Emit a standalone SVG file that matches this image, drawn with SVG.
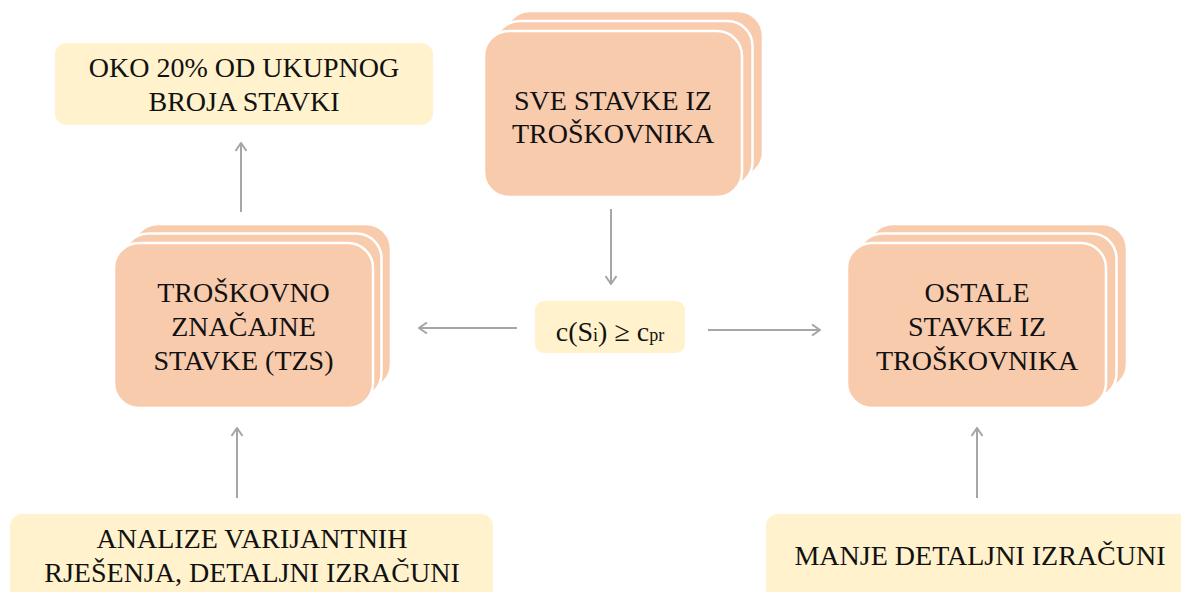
<svg xmlns="http://www.w3.org/2000/svg" width="1181" height="592" viewBox="0 0 1181 592">
<style>
.stk{fill:#F8CBAD;stroke:#FFFFFF;stroke-width:2.5}
.note{fill:#FFF2CC;stroke:none}
.t{font-family:"Liberation Serif","Times New Roman",serif;font-size:28px;fill:#111;text-anchor:middle}
.c{stroke:#A6A6A6;stroke-width:2;fill:none;marker-end:url(#ah)}
</style>
<defs>
<marker id="ah" viewBox="0 0 12 12" refX="11" refY="6" markerWidth="12" markerHeight="12" markerUnits="userSpaceOnUse" orient="auto">
<path d="M3,0.5 L11,6 L3,11.5" fill="none" stroke="#A6A6A6" stroke-width="2"/>
</marker>
</defs>
<rect width="1181" height="592" fill="#FFFFFF"/>
<g id="connectors">
<line class="c" x1="611" y1="209" x2="611" y2="284"/>
<line class="c" x1="517" y1="328" x2="419" y2="328"/>
<line class="c" x1="708" y1="330" x2="820" y2="330"/>
<line class="c" x1="241" y1="212" x2="241" y2="143"/>
<line class="c" x1="237" y1="498" x2="237" y2="428"/>
<line class="c" x1="977" y1="498" x2="977" y2="428"/>
</g>
<g id="node-sve">
<rect class="stk" x="505" y="11" width="258" height="166" rx="25"/>
<rect class="stk" x="494.5" y="21" width="258" height="166" rx="25"/>
<rect class="stk" x="484" y="31" width="258" height="166" rx="25"/>
<text class="t" x="613" y="110">SVE STAVKE IZ</text>
<text class="t" x="613" y="143">TROŠKOVNIKA</text>
</g>
<g id="node-tzs">
<rect class="stk" x="133" y="224" width="258" height="165" rx="25"/>
<rect class="stk" x="123.5" y="233.5" width="258" height="165" rx="25"/>
<rect class="stk" x="114" y="243" width="259" height="165" rx="25"/>
<text class="t" x="243.5" y="302">TROŠKOVNO</text>
<text class="t" x="243.5" y="336">ZNAČAJNE</text>
<text class="t" x="243.5" y="370">STAVKE (TZS)</text>
</g>
<g id="node-ostale">
<rect class="stk" x="868" y="224" width="259" height="165" rx="25"/>
<rect class="stk" x="857.5" y="233.5" width="259" height="165" rx="25"/>
<rect class="stk" x="847" y="243" width="259" height="165" rx="25"/>
<text class="t" x="977" y="302">OSTALE</text>
<text class="t" x="977" y="336">STAVKE IZ</text>
<text class="t" x="977" y="370">TROŠKOVNIKA</text>
</g>
<g id="node-cond">
<rect class="note" x="535" y="301" width="150" height="52" rx="9"/>
<text class="t" x="610" y="341">c(S<tspan font-size="18">i</tspan>) ≥ c<tspan font-size="18">pr</tspan></text>
</g>
<g id="node-20">
<rect class="note" x="55" y="43" width="378" height="82" rx="12"/>
<text class="t" x="244" y="77">OKO 20% OD UKUPNOG</text>
<text class="t" x="244" y="111">BROJA STAVKI</text>
</g>
<g id="node-analize">
<rect class="note" x="10" y="514" width="483" height="100" rx="12"/>
<text class="t" x="252" y="548">ANALIZE VARIJANTNIH</text>
<text class="t" x="252" y="582">RJEŠENJA, DETALJNI IZRAČUNI</text>
</g>
<g id="node-manje">
<rect class="note" x="766" y="514" width="440" height="100" rx="12"/>
<text class="t" x="980" y="565">MANJE DETALJNI IZRAČUNI</text>
</g>
</svg>
